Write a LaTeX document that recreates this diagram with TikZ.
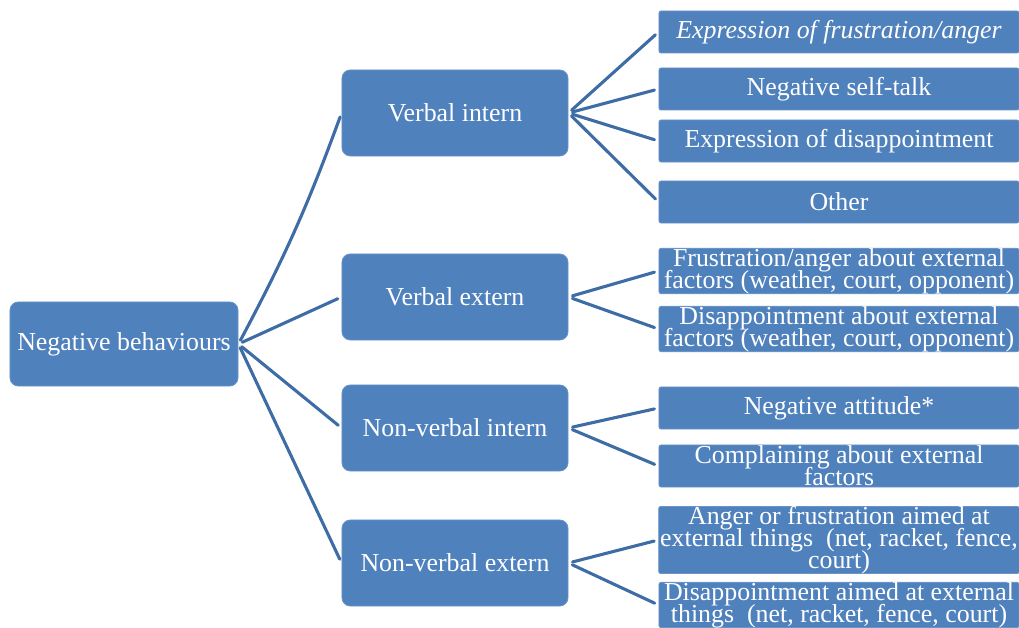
\documentclass[tikz,border=0pt]{standalone}
\usepackage{fontspec}
\setmainfont{Liberation Serif}
\usepackage{xcolor}
\usepackage{tikz}
\definecolor{boxblue}{RGB}{79,129,189}
\definecolor{linkblue}{RGB}{62,108,165}

\begin{document}
\begin{tikzpicture}[x=0.025cm,y=-0.025cm]
    \tikzstyle{box}=[fill=boxblue,draw=boxblue!85!white,line width=0.6pt,text=white,align=center,inner xsep=1pt,inner ysep=0pt,font=\fontsize{18.4}{15.6}\selectfont]
    \tikzstyle{root}=[box,rounded corners=6pt,minimum width=5.7cm,minimum height=2.1cm]
    \tikzstyle{branch}=[box,rounded corners=6pt,minimum width=5.65cm,minimum height=2.15cm]
    \tikzstyle{leaf}=[box,rounded corners=1.5pt,minimum width=9cm,minimum height=1.05cm]

    \clip (0,0) rectangle (1019,628);

    \node[root](negativebehaviours) at (124,344) {Negative behaviours};

    \node[branch](verbalintern) at (455,113) {Verbal intern};
    \node[branch](verbalextern) at (455,297) {Verbal extern};
    \node[branch](nonverbalintern) at (455,428) {Non-verbal intern};
    \node[branch](nonverbalextern) at (455,563) {Non-verbal extern};

    \node[leaf](expressionfrustration) at (839,32) {\itshape Expression of frustration/anger};
    \node[leaf](selftalk) at (839,89) {Negative self-talk};
    \node[leaf](expressiondisappointment) at (839,141) {Expression of disappointment};
    \node[leaf](other) at (839,202) {Other};
    \node[leaf](frustrationexternal) at (839,271) {Frustration/anger about external\\[-2.4pt]factors (weather, court, opponent)};
    \node[leaf,minimum height=1.12cm](disappointmentexternal) at (839,329) {Disappointment about external\\[-2.4pt]factors (weather, court, opponent)};
    \node[leaf](attitude) at (839,408) {Negative attitude*};
    \node[leaf](complaining) at (839,466) {Complaining about external\\[-2.4pt]factors};
    \node[leaf,minimum height=1.6cm](angerthings) at (839,540) {Anger or frustration aimed at\\[-2.4pt]external things\ \ (net, racket, fence,\\[-2.4pt]court)};
    \node[leaf,minimum height=1.1cm](disappointmentthings) at (839,605) {Disappointment aimed at external\\[-2.4pt]things\ \ (net, racket, fence, court)};

    \tikzstyle{link} = [line width=2.2pt,draw=linkblue,line cap=round,shorten <=3pt,shorten >=3pt]

    \draw [link] (negativebehaviours.east) to[bend right=4] (verbalintern.west);
    \draw [link] (negativebehaviours.east) -- (verbalextern.west);
    \draw [link] (negativebehaviours.east) -- (nonverbalintern.west);
    \draw [link] (negativebehaviours.east) -- (nonverbalextern.west);

    \draw [link] (verbalintern.east) -- (expressionfrustration.west);
    \draw [link] (verbalintern.east) -- (selftalk.west);
    \draw [link] (verbalintern.east) -- (expressiondisappointment.west);
    \draw [link] (verbalintern.east) -- (other.west);

    \draw [link] (verbalextern.east) -- (frustrationexternal.west);
    \draw [link] (verbalextern.east) -- (disappointmentexternal.west);

    \draw [link] (nonverbalintern.east) -- (attitude.west);
    \draw [link] (nonverbalintern.east) -- (complaining.west);

    \draw [link] (nonverbalextern.east) -- (angerthings.west);
    \draw [link] (nonverbalextern.east) -- (disappointmentthings.west);

\end{tikzpicture}
\end{document}
